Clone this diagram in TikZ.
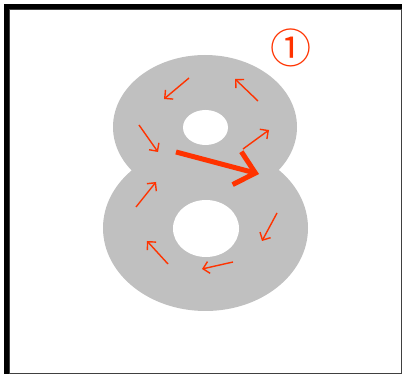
\documentclass[tikz,border=0pt]{standalone}
\usepackage{fontspec}
\newfontfamily\cjkfont{Noto Sans CJK JP}
\usetikzlibrary{arrows.meta}
\definecolor{eight}{HTML}{C0C0C0}
\definecolor{flow}{HTML}{FF3300}
\definecolor{frame}{HTML}{404040}
\begin{document}
\begin{tikzpicture}[x=1pt,y=-1pt,
    flowarrow/.style={flow,line width=1.4pt,-{Straight Barb[length=6pt,width=12pt]}},
    bigarrow/.style={flow,line width=5pt,-{Straight Barb[length=19pt,width=34pt]}}]
  \useasboundingbox (0,0) rectangle (402,374);
  % frame
  \fill[black] (4,4) rectangle (402,9);
  \fill[black] (4,4) rectangle (9,374);
  \draw[frame,line width=1pt] (9.5,9.5) rectangle (401.5,373);
  % the digit
  \fill[eight] (205,127) ellipse [x radius=92pt, y radius=72pt];
  \fill[eight] (205.5,228) ellipse [x radius=102.5pt, y radius=83pt];
  \fill[white] (205.5,127.5) ellipse [x radius=22.5pt, y radius=17.5pt];
  \fill[white] (206,228.5) ellipse [x radius=33pt, y radius=28.5pt];
  % stroke order
  \node[flow,font=\cjkfont\fontsize{41}{41}\selectfont] (step1) at (291,48) {①};
  \draw[flowarrow] (189,78) -- (164,99);
  \draw[flowarrow] (258,101) -- (235,79);
  \draw[flowarrow] (139,125) -- (158,152);
  \draw[flowarrow] (243,149) -- (269,130);
  \draw[flowarrow] (136,207) -- (156,182);
  \draw[flowarrow] (277,213) -- (262,241);
  \draw[flowarrow] (168,264) -- (147,241);
  \draw[flowarrow] (233,262) -- (202,269);
  \draw[bigarrow] (176,152) -- (259,174);
\end{tikzpicture}
\end{document}
